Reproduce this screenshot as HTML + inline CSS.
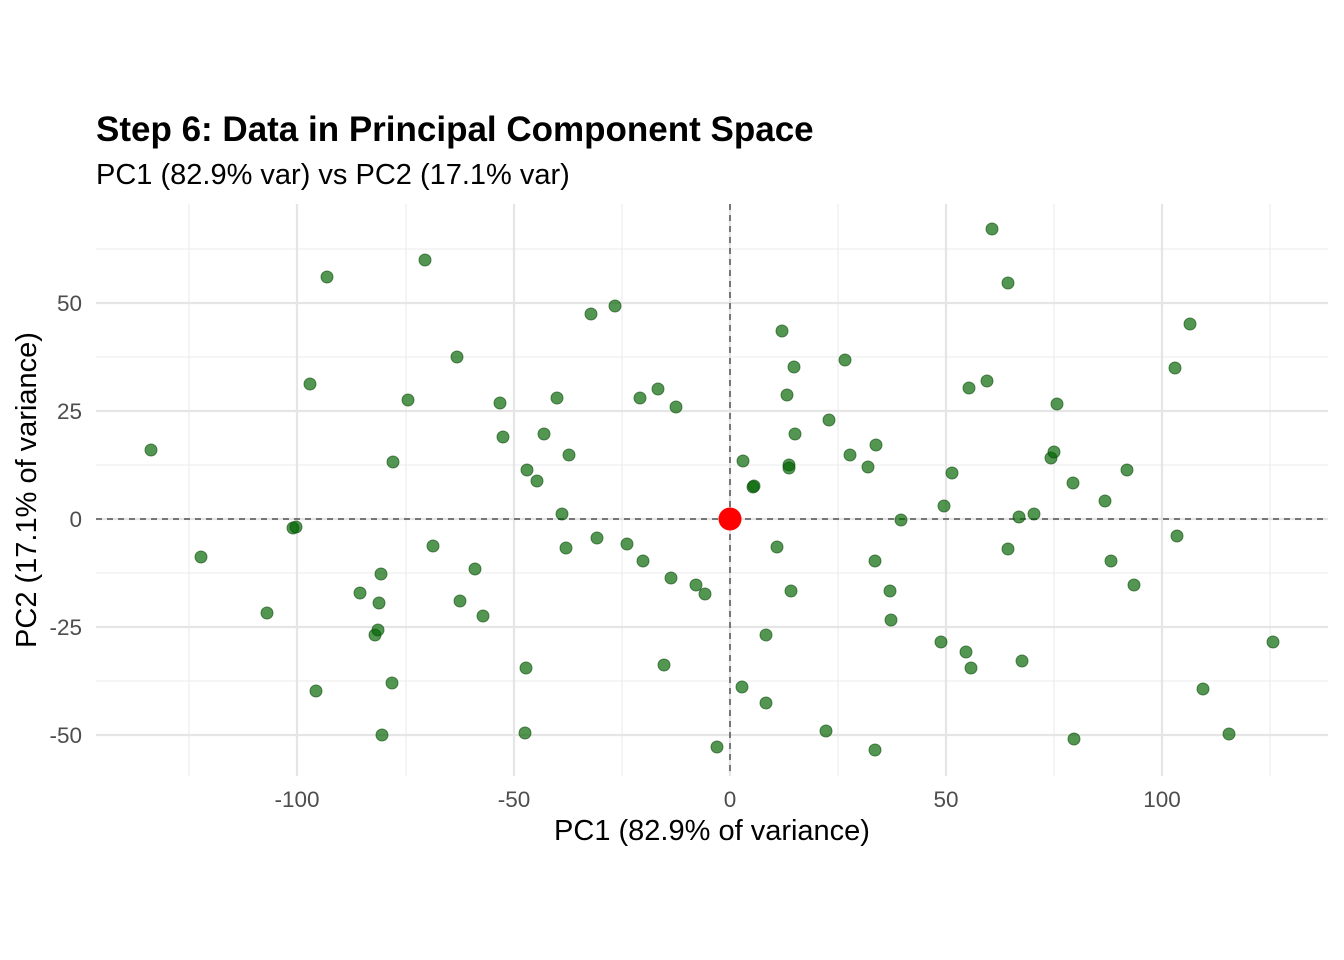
<!DOCTYPE html>
<html><head><meta charset="utf-8"><style>body{margin:0;background:#fff}svg{display:block}text{font-family:"Liberation Sans",Arial,sans-serif}</style></head>
<body>
<svg width="1344" height="960" xmlns="http://www.w3.org/2000/svg">
<rect width="1344" height="960" fill="#fff"/>
<g stroke="#ebebeb" stroke-width="1.1">
<line x1="189" y1="204" x2="189" y2="776"/><line x1="406" y1="204" x2="406" y2="776"/><line x1="622" y1="204" x2="622" y2="776"/><line x1="838" y1="204" x2="838" y2="776"/><line x1="1054" y1="204" x2="1054" y2="776"/><line x1="1270" y1="204" x2="1270" y2="776"/>
<line x1="96" y1="249" x2="1328" y2="249"/><line x1="96" y1="357" x2="1328" y2="357"/><line x1="96" y1="465" x2="1328" y2="465"/><line x1="96" y1="573" x2="1328" y2="573"/><line x1="96" y1="681" x2="1328" y2="681"/>
</g>
<g stroke="#e5e5e5" stroke-width="2.2">
<line x1="297" y1="204" x2="297" y2="776"/><line x1="514" y1="204" x2="514" y2="776"/><line x1="730" y1="204" x2="730" y2="776"/><line x1="946" y1="204" x2="946" y2="776"/><line x1="1162" y1="204" x2="1162" y2="776"/>
<line x1="96" y1="303" x2="1328" y2="303"/><line x1="96" y1="411" x2="1328" y2="411"/><line x1="96" y1="519" x2="1328" y2="519"/><line x1="96" y1="627" x2="1328" y2="627"/><line x1="96" y1="735" x2="1328" y2="735"/>
</g>
<g stroke="#777" stroke-width="2" stroke-dasharray="6,5">
<line x1="96" y1="519" x2="1328" y2="519"/><line x1="730" y1="204" x2="730" y2="776"/>
</g>
<g fill="#006400" fill-opacity="0.68" stroke="#0a4a0a" stroke-opacity="0.6" stroke-width="1">
<circle cx="151" cy="450" r="6"/><circle cx="201" cy="557" r="6"/><circle cx="267" cy="613" r="6"/><circle cx="293" cy="528" r="6"/><circle cx="296" cy="527" r="6"/><circle cx="310" cy="384" r="6"/><circle cx="316" cy="691" r="6"/><circle cx="327" cy="277" r="6"/><circle cx="360" cy="593" r="6"/><circle cx="375" cy="635" r="6"/><circle cx="378" cy="630" r="6"/><circle cx="379" cy="603" r="6"/><circle cx="381" cy="574" r="6"/><circle cx="382" cy="735" r="6"/><circle cx="393" cy="462" r="6"/><circle cx="392" cy="683" r="6"/><circle cx="408" cy="400" r="6"/><circle cx="425" cy="260" r="6"/><circle cx="433" cy="546" r="6"/><circle cx="457" cy="357" r="6"/><circle cx="460" cy="601" r="6"/><circle cx="475" cy="569" r="6"/><circle cx="483" cy="616" r="6"/><circle cx="500" cy="403" r="6"/><circle cx="503" cy="437" r="6"/><circle cx="526" cy="668" r="6"/><circle cx="525" cy="733" r="6"/><circle cx="527" cy="470" r="6"/><circle cx="537" cy="481" r="6"/><circle cx="544" cy="434" r="6"/><circle cx="557" cy="398" r="6"/><circle cx="562" cy="514" r="6"/><circle cx="566" cy="548" r="6"/><circle cx="569" cy="455" r="6"/><circle cx="591" cy="314" r="6"/><circle cx="597" cy="538" r="6"/><circle cx="615" cy="306" r="6"/><circle cx="627" cy="544" r="6"/><circle cx="640" cy="398" r="6"/><circle cx="643" cy="561" r="6"/><circle cx="658" cy="389" r="6"/><circle cx="664" cy="665" r="6"/><circle cx="671" cy="578" r="6"/><circle cx="676" cy="407" r="6"/><circle cx="696" cy="585" r="6"/><circle cx="705" cy="594" r="6"/><circle cx="717" cy="747" r="6"/><circle cx="742" cy="687" r="6"/><circle cx="743" cy="461" r="6"/><circle cx="753" cy="487" r="6"/><circle cx="754" cy="486" r="6"/><circle cx="766" cy="703" r="6"/><circle cx="766" cy="635" r="6"/><circle cx="777" cy="547" r="6"/><circle cx="782" cy="331" r="6"/><circle cx="787" cy="395" r="6"/><circle cx="789" cy="465" r="6"/><circle cx="789" cy="468" r="6"/><circle cx="791" cy="591" r="6"/><circle cx="794" cy="367" r="6"/><circle cx="795" cy="434" r="6"/><circle cx="826" cy="731" r="6"/><circle cx="829" cy="420" r="6"/><circle cx="845" cy="360" r="6"/><circle cx="850" cy="455" r="6"/><circle cx="868" cy="467" r="6"/><circle cx="875" cy="750" r="6"/><circle cx="875" cy="561" r="6"/><circle cx="876" cy="445" r="6"/><circle cx="890" cy="591" r="6"/><circle cx="891" cy="620" r="6"/><circle cx="901" cy="520" r="6"/><circle cx="941" cy="642" r="6"/><circle cx="944" cy="506" r="6"/><circle cx="952" cy="473" r="6"/><circle cx="966" cy="652" r="6"/><circle cx="969" cy="388" r="6"/><circle cx="971" cy="668" r="6"/><circle cx="987" cy="381" r="6"/><circle cx="992" cy="229" r="6"/><circle cx="1008" cy="549" r="6"/><circle cx="1008" cy="283" r="6"/><circle cx="1019" cy="517" r="6"/><circle cx="1022" cy="661" r="6"/><circle cx="1034" cy="514" r="6"/><circle cx="1051" cy="458" r="6"/><circle cx="1054" cy="452" r="6"/><circle cx="1057" cy="404" r="6"/><circle cx="1073" cy="483" r="6"/><circle cx="1074" cy="739" r="6"/><circle cx="1105" cy="501" r="6"/><circle cx="1111" cy="561" r="6"/><circle cx="1127" cy="470" r="6"/><circle cx="1134" cy="585" r="6"/><circle cx="1175" cy="368" r="6"/><circle cx="1177" cy="536" r="6"/><circle cx="1190" cy="324" r="6"/><circle cx="1203" cy="689" r="6"/><circle cx="1229" cy="734" r="6"/><circle cx="1273" cy="642" r="6"/>
</g>
<circle cx="730" cy="519" r="11.5" fill="#ff0000"/>
<g fill="#4d4d4d" font-size="22.5" text-anchor="middle">
<text x="297" y="807">-100</text><text x="514" y="807">-50</text><text x="730" y="807">0</text><text x="946" y="807">50</text><text x="1162" y="807">100</text>
</g>
<g fill="#4d4d4d" font-size="22.5" text-anchor="end">
<text x="82" y="311">50</text><text x="82" y="419">25</text><text x="82" y="527">0</text><text x="82" y="635">-25</text><text x="82" y="743">-50</text>
</g>
<text x="712" y="840" font-size="29" text-anchor="middle" fill="#000">PC1 (82.9% of variance)</text>
<text transform="translate(36,490) rotate(-90)" font-size="29" text-anchor="middle" fill="#000">PC2 (17.1% of variance)</text>
<text x="96" y="141" font-size="35" font-weight="bold" fill="#000">Step 6: Data in Principal Component Space</text>
<text x="96" y="184" font-size="29" fill="#000">PC1 (82.9% var) vs PC2 (17.1% var)</text>
</svg>
</body></html>
